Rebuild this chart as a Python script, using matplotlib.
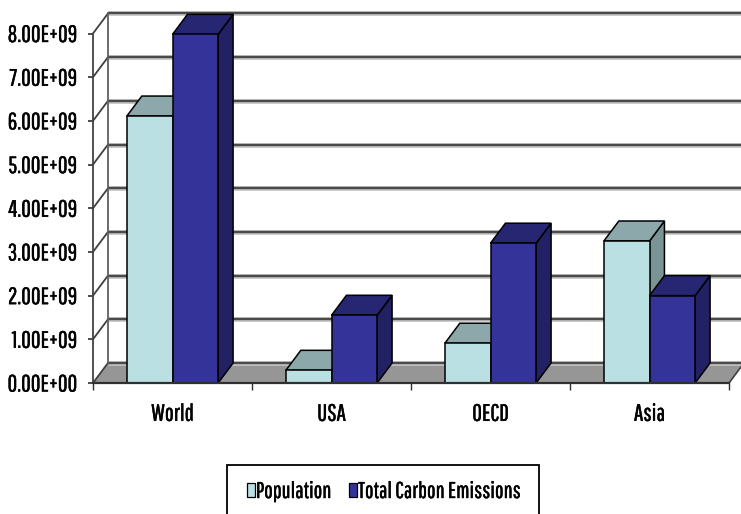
import numpy as np
import matplotlib
matplotlib.use("Agg")
import matplotlib.pyplot as plt
import matplotlib.patheffects as pe
from matplotlib import font_manager as fm
from matplotlib.patches import Polygon, Patch, Rectangle

regions = ["World", "USA", "OECD", "Asia"]
population = [6.11e9, 0.29e9, 0.91e9, 3.25e9]
carbon = [7.98e9, 1.55e9, 3.20e9, 2.00e9]
y_ticks = [0, 1e9, 2e9, 3e9, 4e9, 5e9, 6e9, 7e9, 8e9]
y_labels = ["0.00E+00", "1.00E+09", "2.00E+09", "3.00E+09", "4.00E+09",
            "5.00E+09", "6.00E+09", "7.00E+09", "8.00E+09"]

W, H = 741, 514

# very condensed face when it exists, otherwise a small Liberation Sans of the same width
try:
    fm.findfont("Pathway Gothic One", fallback_to_default=False)
    plt.rcParams['font.family'] = ['Pathway Gothic One', 'DejaVu Sans']
    fs = 17
except ValueError:
    plt.rcParams['font.family'] = ['Liberation Sans', 'DejaVu Sans']
    fs = 11

# thin outline to give the light face more weight
heavier = [pe.withStroke(linewidth=0.3, foreground="black")]

# depth of the fake 3D box, in data units
dx = 0.094
dy = 0.458e9
bar_w = 0.287

pop_cols = ("#BBE0E3", "#8CA8AA", "#7A9496")
carbon_cols = ("#333399", "#262673", "#212163")


def bar3d(ax, x0, x1, h, cols):
    """Front, top and side faces of one bar standing on the floor."""
    ax.add_patch(Polygon([(x1, 0), (x1 + dx, dy), (x1 + dx, h + dy), (x1, h)],
                         fc=cols[2], ec="black", lw=1.1, clip_on=False, zorder=5))
    ax.add_patch(Polygon([(x0, h), (x0 + dx, h + dy), (x1 + dx, h + dy), (x1, h)],
                         fc=cols[1], ec="black", lw=1.1, clip_on=False, zorder=5))
    ax.add_patch(Polygon([(x0, 0), (x0, h), (x1, h), (x1, 0)],
                         fc=cols[0], ec="black", lw=1.1, clip_on=False, zorder=5))


fig = plt.figure(figsize=(W / 100, H / 100), dpi=100)
ax = fig.add_axes([93 / W, 1 - 383 / H, 636 / W, (383 - 33.5) / H])
ax.set_xlim(0, 4)
ax.set_ylim(0, 8e9)

# floor
ax.add_patch(Polygon([(0, 0), (dx, dy), (4 + dx, dy), (4, 0)],
                     fc="#969696", ec="none", clip_on=False, zorder=1))

# back wall gridlines and the diagonal left wall lines
for t in y_ticks:
    ax.plot([dx, 4 + dx], [t + dy, t + dy], color="#C4C4C4", lw=3.4, clip_on=False,
            zorder=2, solid_capstyle="butt")
    ax.plot([dx, 4 + dx], [t + dy, t + dy], color="#4A4A4A", lw=1.7, clip_on=False,
            zorder=3, solid_capstyle="butt")
    ax.plot([0, dx], [t, t + dy], color="#404040", lw=1.3, clip_on=False, zorder=3)
ax.plot([dx, dx], [dy, 8e9 + dy], color="#606060", lw=1.3, clip_on=False, zorder=3)
ax.plot([4, 4 + dx], [0, dy], color="#404040", lw=1.2, clip_on=False, zorder=3)

# bars: population first so the carbon bar sits in front of its side face
for i in range(len(regions)):
    c = i + 0.5
    bar3d(ax, c - bar_w, c, population[i], pop_cols)
    bar3d(ax, c, c + bar_w, carbon[i], carbon_cols)

for s in ["top", "right"]:
    ax.spines[s].set_visible(False)
ax.spines["left"].set_color("#505050")
ax.spines["left"].set_linewidth(1.4)
ax.spines["bottom"].set_color("#303030")
ax.spines["bottom"].set_linewidth(1.6)
ax.spines["bottom"].set_zorder(6)
ax.patch.set_alpha(0)

ax.set_yticks(y_ticks)
ax.set_yticklabels(y_labels, fontsize=fs, color="black", path_effects=heavier)
ax.tick_params(axis="y", length=3.6, width=1.2, color="#303030", pad=8)
ax.set_xticks(np.arange(5))
ax.set_xticklabels([])
ax.set_xticks(np.arange(len(regions)) + 0.5, minor=True)
ax.set_xticklabels(regions, minor=True, fontsize=fs, path_effects=heavier)
ax.tick_params(axis="x", which="major", length=5, width=1.0, color="#303030")
ax.tick_params(axis="x", which="minor", length=0, pad=15)

# legend box runs off the bottom edge, so it is drawn apart from the entries
fig.add_artist(Rectangle((227 / W, -4 / H), 312 / W, 53 / H, transform=fig.transFigure,
                         fc="white", ec="black", lw=1.3))
handles = [Patch(fc=pop_cols[0], ec="black", lw=0.9, label="Population"),
           Patch(fc=carbon_cols[0], ec="black", lw=0.9, label="Total Carbon Emissions")]
leg = fig.legend(handles=handles, loc="lower left", bbox_to_anchor=(247 / W, 12 / H),
                 ncol=2, frameon=False, fontsize=fs - 0.6, handlelength=0.34, handleheight=0.55,
                 handletextpad=0.05, columnspacing=0.8, borderpad=0, borderaxespad=0)
for txt in leg.get_texts():
    txt.set_path_effects(heavier)

fig.savefig("out.png", dpi=100)
